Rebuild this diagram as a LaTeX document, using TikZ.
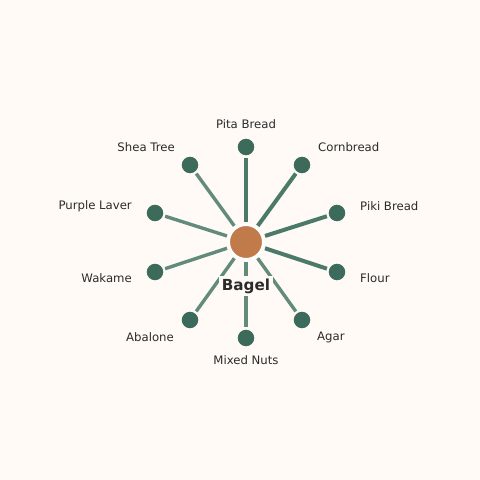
\documentclass[tikz,border=0pt]{standalone}
\usepackage{fontspec}
\setmainfont{DejaVu Sans}
\usepackage{xcolor}
\definecolor{bgcream}{HTML}{FFFAF6}
\definecolor{leafgreen}{HTML}{3D6B5B}
\definecolor{spokedark}{HTML}{4B7A68}
\definecolor{spokelight}{HTML}{638B7C}
\definecolor{bagelbrown}{HTML}{C17A4A}
\definecolor{inkgray}{HTML}{2B2B2B}
\tikzset{
  leaf/.style={circle,fill=leafgreen,draw=bgcream,line width=1.2pt,minimum size=18pt,inner sep=0pt},
  hub/.style={circle,fill=bagelbrown,draw=white,line width=2pt,minimum size=34pt,inner sep=0pt},
  spoke/.style={draw=spokelight,line width=3.4pt,shorten <=2pt,shorten >=1pt},
  heavyspoke/.style={spoke,draw=spokedark,line width=4pt},
  lbl/.style={text=inkgray,font=\fontsize{11.7}{13}\selectfont,inner sep=0pt}
}
\begin{document}
\begin{tikzpicture}[x=1pt,y=-1pt]
        \fill[bgcream] (0,0) rectangle (480,480);
        \useasboundingbox (0,0) rectangle (480,480);
        \node[hub] (bagel) at (246,242) {};
        %
        \node[leaf] (pita) at (246,147) {};
        \node[leaf] (corn) at (302,165) {};
        \node[leaf] (piki) at (337,213) {};
        \node[leaf] (flour) at (337,272) {};
        \node[leaf] (agar) at (302,320) {};
        \node[leaf] (nuts) at (246,338) {};
        \node[leaf] (abalone) at (190,320) {};
        \node[leaf] (wakame) at (155,272) {};
        \node[leaf] (laver) at (155,213) {};
        \node[leaf] (shea) at (190,165) {};
        %
        \draw[heavyspoke] (bagel) -- (pita);
        \draw[heavyspoke] (bagel) -- (corn);
        \draw[heavyspoke] (bagel) -- (piki);
        \draw[heavyspoke] (bagel) -- (flour);
        \draw[spoke] (bagel) -- (agar);
        \draw[spoke] (bagel) -- (nuts);
        \draw[spoke] (bagel) -- (abalone);
        \draw[spoke] (bagel) -- (wakame);
        \draw[spoke] (bagel) -- (laver);
        \draw[spoke] (bagel) -- (shea);
        %
        \node[fill=bgcream,inner xsep=3pt,inner ysep=2.5pt,text=inkgray,font=\fontsize{15.2}{17}\selectfont\bfseries] (bagellbl) at (246,286) {Bagel};
        %
        \node[lbl] (pitalbl) at (246,124) {Pita Bread};
        \node[lbl,anchor=west] (cornlbl) at (318,147) {Cornbread};
        \node[lbl,anchor=west] (pikilbl) at (360,206) {Piki Bread};
        \node[lbl,anchor=west] (flourlbl) at (360,278) {Flour};
        \node[lbl,anchor=west] (agarlbl) at (317,337) {Agar};
        \node[lbl] (nutslbl) at (246,360) {Mixed Nuts};
        \node[lbl,anchor=east] (abalonelbl) at (174,337) {Abalone};
        \node[lbl,anchor=east] (wakamelbl) at (132,278) {Wakame};
        \node[lbl,anchor=east] (laverlbl) at (132,206) {Purple Laver};
        \node[lbl,anchor=east] (shealbl) at (175,147) {Shea Tree};
    \end{tikzpicture}
\end{document}
